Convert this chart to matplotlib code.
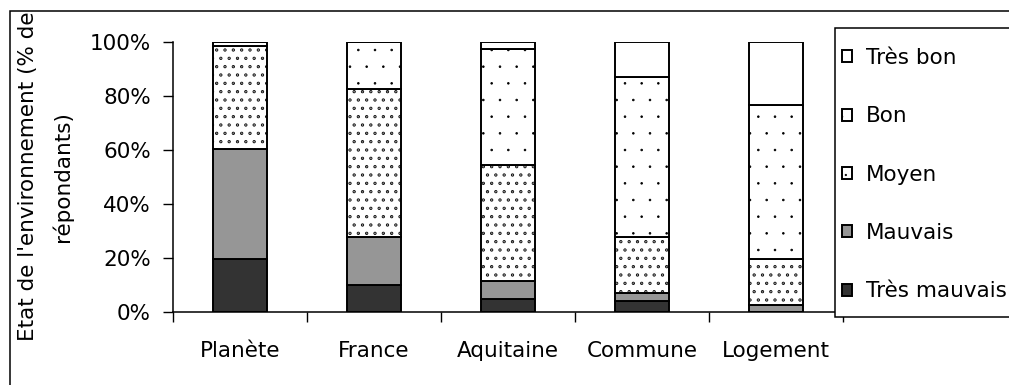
import matplotlib
matplotlib.use("Agg")
import matplotlib.pyplot as plt
import numpy as np
from matplotlib import hatch as mhatch
from matplotlib.patches import Rectangle
from matplotlib.ticker import PercentFormatter, FixedLocator

# categories and answers (% of respondents)
categories = ["Planète", "France", "Aquitaine", "Commune", "Logement"]
tres_mauvais = [19.5, 9.8, 4.8, 3.9, 0.0]
mauvais = [40.7, 18.0, 6.6, 3.0, 2.3]
moyen = [38.3, 54.8, 43.1, 20.9, 17.3]
bon = [1.5, 17.4, 42.9, 59.3, 57.1]
tres_bon = [0.0, 0.0, 2.6, 12.9, 23.3]

# name, values, fill, hatch, hatch line width
series = [
    ("Très mauvais", tres_mauvais, "#333333", None, 1.0),
    ("Mauvais", mauvais, "#969696", None, 1.0),
    ("Moyen", moyen, "white", "..", 1.7),
    ("Bon", bon, "white", ".", 0.6),
    ("Très bon", tres_bon, "white", None, 1.0),
]

plt.rcParams["font.family"] = ["DejaVu Sans"]
mhatch.SmallFilledCircles.size = 0.05

W, H = 1009, 385
fig = plt.figure(figsize=(W / 100, H / 100), dpi=100)

def px(x, y):
    # pixel position (from top-left) -> figure fraction
    return x / W, 1 - y / H

FS = 15.5

ax = fig.add_axes([173 / W, 1 - 311.5 / H, (843 - 173) / W, (311.5 - 42) / H])
x = np.arange(len(categories))
bottom = np.zeros(len(categories))
handles = []
for name, vals, color, hatch, hlw in series:
    with plt.rc_context({"hatch.linewidth": hlw}):
        b = ax.bar(x, vals, width=0.4, bottom=bottom, color=color,
                   edgecolor="black", linewidth=1.4, hatch=hatch, label=name)
    bottom += np.array(vals)
    handles.append(b)

ax.set_xlim(-0.5, len(categories) - 0.5)
ax.set_ylim(0, 100)
ax.yaxis.set_major_locator(FixedLocator([0, 20, 40, 60, 80, 100]))
ax.yaxis.set_major_formatter(PercentFormatter(decimals=0))
ax.set_xticks(x)
ax.set_xticklabels(categories)
ax.set_xticks(np.arange(len(categories) + 1) - 0.5, minor=True)
ax.tick_params(axis="x", which="major", length=0, pad=21, labelsize=FS)
ax.tick_params(axis="x", which="minor", length=7, width=1, direction="out")
ax.tick_params(axis="y", length=7, width=1, direction="out", pad=9, labelsize=FS)
for s in ["top", "right"]:
    ax.spines[s].set_visible(False)
for s in ["left", "bottom"]:
    ax.spines[s].set_linewidth(1.1)

# outer chart border
fig.patches.append(Rectangle(px(10, 420), (1100 - 10) / W, (420 - 11) / H,
                             transform=fig.transFigure, fill=False,
                             edgecolor="black", linewidth=1.1, clip_on=False))

# y label, two lines, clipped by the border
clip = Rectangle(px(10, 400), 1, (400 - 12) / H, transform=fig.transFigure)
for txt, xb in [("Etat de l'environnement (% de", 34), ("répondants)", 69)]:
    t = fig.text(*px(xb, 176.5), txt, rotation=90, rotation_mode="anchor",
                 ha="center", va="baseline", fontsize=FS)
    t.set_clip_path(clip)

# legend box
fig.patches.append(Rectangle(px(835, 317), (1100 - 835) / W, (317 - 28) / H,
                             transform=fig.transFigure, facecolor="white",
                             edgecolor="black", linewidth=1.1, clip_on=False,
                             zorder=5))
leg = fig.legend(handles[::-1], [s[0] for s in series][::-1],
                 loc="upper left", bbox_to_anchor=px(842, 48),
                 frameon=False, fontsize=FS, handlelength=0.47, handleheight=0.47,
                 handletextpad=0.65, labelspacing=1.78, borderpad=0,
                 borderaxespad=0)
leg.set_zorder(6)

fig.savefig("out.png", dpi=100)
